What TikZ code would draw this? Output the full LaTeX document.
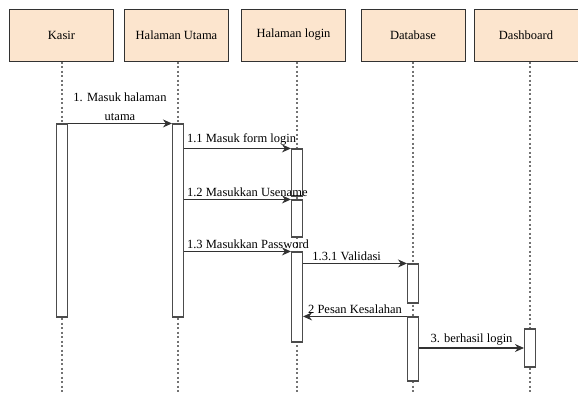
\documentclass[tikz,border=0pt]{standalone}
\usepackage{fontspec}
\setmainfont{Liberation Serif}
\usetikzlibrary{arrows.meta}
\usetikzlibrary{backgrounds}
\definecolor{headfill}{RGB}{252,229,206}
\definecolor{edgegray}{RGB}{50,50,50}

\begin{document}
\begin{tikzpicture}[x=1pt,y=-1pt,font=\fontsize{12.5}{18.5}\selectfont,
  head/.style={draw=edgegray, fill=headfill, line width=1pt, minimum width=104pt, minimum height=52pt, inner sep=0pt},
  life/.style={draw=gray!90!black, line width=1.2pt, dash pattern=on 2pt off 2.5pt},
  act/.style={draw=gray!60!black, fill=white, line width=1.1pt, minimum width=11pt, inner sep=0pt},
  msg/.style={draw=edgegray, line width=1.1pt, -{Stealth[length=9pt,width=8pt]}},
  lbl/.style={inner sep=2.5pt, text=black}]
\useasboundingbox (0,0) rectangle (578,392);
\node[head] (kasir) at (61.5,35) {Kasir};
\node[head] (utama) at (176.5,35) {Halaman Utama};
\node[head] (login) at (293.5,35) {Halaman login};
\node[head] (dbase) at (413,35) {Database};
\node[head] (dash) at (526,35) {Dashboard};
\coordinate (bottom) at (0,392);
\node[act, minimum height=193pt] (actK) at (62,220.5) {};
\node[act, minimum height=193pt] (actU) at (178,220.5) {};
\node[act, minimum height=47pt] (actL1) at (297,172.5) {};
\node[act, minimum height=37pt] (actL2) at (297,218.5) {};
\node[act, minimum height=90pt] (actL3) at (297,297) {};
\node[act, minimum height=39pt] (actD1) at (413,283.5) {};
\node[act, minimum height=64pt] (actD2) at (413,349) {};
\node[act, minimum height=38pt] (actB) at (530,348) {};
\begin{scope}[on background layer]
\foreach \h/\a in {kasir/actK, utama/actU, login/actL1, dbase/actD1, dash/actB}
  \draw[life] (\a |- \h.south) -- (\a |- bottom);
\end{scope}
\draw[msg] (actK.north east) -- node[lbl, above, align=center] {1. Masuk halaman\\utama} (actU.north west);
\draw[msg] (actL1.north west -| actU.east) node[lbl, above right] {1.1 Masuk form login} -- (actL1.north west);
\draw[msg] (actL2.north west -| actU.east) node[lbl, above right] {1.2 Masukkan Usename} -- (actL2.north west);
\draw[msg] (actL3.north west -| actU.east) node[lbl, above right] {1.3 Masukkan Password} -- (actL3.north west);
\draw[msg] (actD1.north west -| actL3.east) -- node[lbl, above, pos=.42] {1.3.1 Validasi} (actD1.north west);
\draw[msg] (actD2.north west) -- node[lbl, above] {2 Pesan Kesalahan} (actD2.north west -| actL3.east);
\draw[msg] (actB.west -| actD2.east) -- node[lbl, above] {3. berhasil login} (actB.west);
\end{tikzpicture}
\end{document}
